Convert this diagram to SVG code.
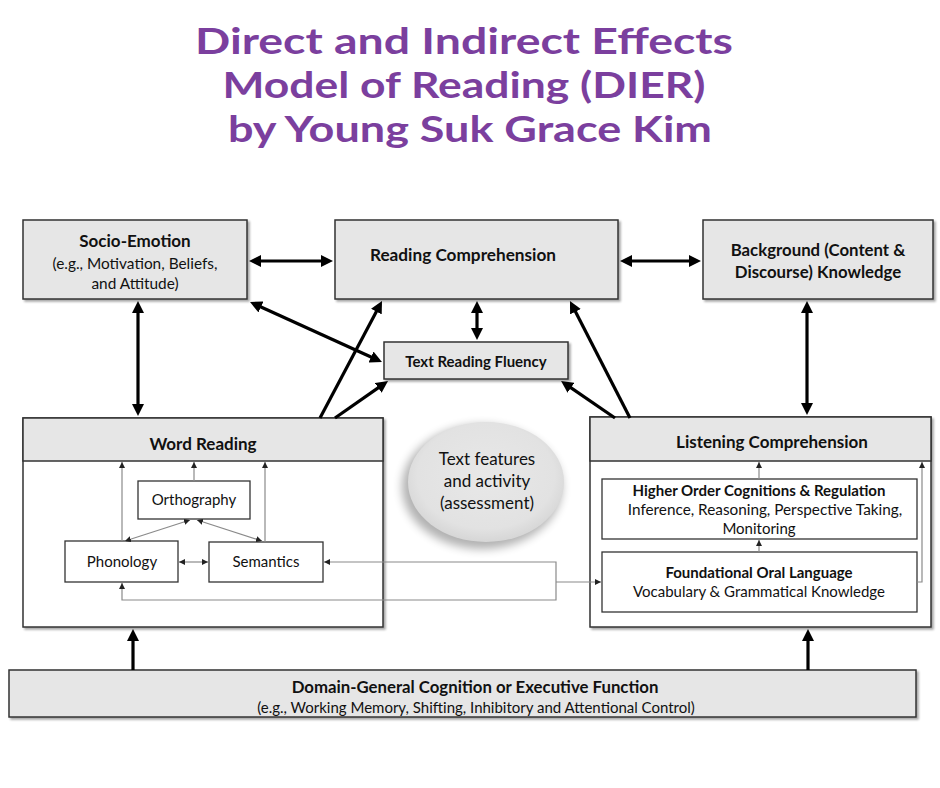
<svg xmlns="http://www.w3.org/2000/svg" width="940" height="788" viewBox="0 0 940 788">
<defs>
<style>
.t{font-family:Lato,"Liberation Sans",sans-serif;fill:#111;text-anchor:middle}
.b{font-weight:bold}
.title{font-family:Lato,"Liberation Sans",sans-serif;font-weight:bold;fill:#7b3f9e;font-size:37px;text-anchor:middle}
.box{fill:#e6e6e6;stroke:#333;stroke-width:1.5;filter:url(#sh)}
.wbox{fill:#fff;stroke:#333;stroke-width:1.5;filter:url(#sh)}
.ibox{fill:#fff;stroke:#333;stroke-width:1.3}
.hd{fill:#e6e6e6;stroke:#333;stroke-width:1.5}
.thick{stroke:#000;stroke-width:3.2;fill:none}
.thin{stroke:#8a8a8a;stroke-width:1.2;fill:none}
</style>
<filter id="sh" x="-5%" y="-5%" width="115%" height="125%">
<feDropShadow dx="2" dy="2" stdDeviation="1.2" flood-color="#000" flood-opacity="0.35"/>
</filter>
<filter id="esh" x="-30%" y="-30%" width="160%" height="160%">
<feGaussianBlur stdDeviation="5"/>
</filter>
<radialGradient id="eg" cx="50%" cy="45%" r="55%">
<stop offset="0" stop-color="#e8e8e8"/>
<stop offset="0.8" stop-color="#e2e2e2"/>
<stop offset="1" stop-color="#d6d6d6"/>
</radialGradient>
<marker id="ah" viewBox="0 0 10 10" refX="5" refY="5" markerWidth="12" markerHeight="12" markerUnits="userSpaceOnUse" orient="auto-start-reverse">
<path d="M0,0 L10,5 L0,10 z" fill="#000"/>
</marker>
<marker id="sa" viewBox="0 0 10 10" refX="10" refY="5" markerWidth="6" markerHeight="6" markerUnits="userSpaceOnUse" orient="auto-start-reverse">
<path d="M0,0 L10,5 L0,10 z" fill="#222"/>
</marker>
</defs>
<rect width="940" height="788" fill="#fff"/>

<g id="title">
<text class="title" x="464" y="54" textLength="538" lengthAdjust="spacingAndGlyphs">Direct and Indirect Effects</text>
<text class="title" x="464" y="98" textLength="483" lengthAdjust="spacingAndGlyphs">Model of Reading (DIER)</text>
<text class="title" x="470" y="142" textLength="484" lengthAdjust="spacingAndGlyphs">by Young Suk Grace Kim</text>
</g>

<g id="socio-emotion">
<rect class="box" x="23" y="220" width="224" height="79"/>
<text class="t b" x="135" y="247" font-size="17">Socio-Emotion</text>
<text class="t" x="135" y="269" font-size="15.4">(e.g., Motivation, Beliefs,</text>
<text class="t" x="135" y="289" font-size="15.4">and Attitude)</text>
</g>

<g id="reading-comprehension">
<rect class="box" x="335" y="220" width="283" height="79"/>
<text class="t b" x="463" y="261" font-size="17.2">Reading Comprehension</text>
</g>

<g id="background-knowledge">
<rect class="box" x="703" y="220" width="230" height="79"/>
<text class="t b" x="818" y="256" font-size="16.8">Background (Content &amp;</text>
<text class="t b" x="818" y="278" font-size="16.8">Discourse) Knowledge</text>
</g>

<g id="text-reading-fluency">
<rect class="box" x="384" y="342" width="184" height="37"/>
<text class="t b" x="476" y="367" font-size="15">Text Reading Fluency</text>
</g>

<g id="text-features">
<ellipse cx="482" cy="487" rx="80" ry="62" fill="#000" opacity="0.3" filter="url(#esh)"/>
<ellipse cx="486" cy="482" rx="78" ry="60" fill="url(#eg)"/>
<text class="t" x="487" y="465" font-size="17">Text features</text>
<text class="t" x="487" y="487" font-size="17">and activity</text>
<text class="t" x="487" y="509" font-size="17">(assessment)</text>
</g>

<g id="word-reading">
<rect class="wbox" x="23" y="418" width="360" height="209"/>
<rect class="hd" x="23" y="418" width="360" height="43"/>
<text class="t b" x="203" y="450" font-size="17">Word Reading</text>
</g>

<g id="orthography">
<rect class="ibox" x="138" y="481" width="112" height="38"/>
<text class="t" x="194" y="505" font-size="15">Orthography</text>
</g>

<g id="phonology">
<rect class="ibox" x="65" y="541" width="113" height="41"/>
<text class="t" x="122" y="567" font-size="15">Phonology</text>
</g>

<g id="semantics">
<rect class="ibox" x="209" y="542" width="114" height="40"/>
<text class="t" x="266" y="567" font-size="15">Semantics</text>
</g>

<g id="listening-comprehension">
<rect class="wbox" x="590" y="417" width="341" height="210"/>
<rect class="hd" x="590" y="417" width="341" height="44"/>
<text class="t b" x="772" y="448" font-size="17">Listening Comprehension</text>
</g>

<g id="higher-order">
<rect class="ibox" x="602" y="479" width="315" height="60"/>
<text class="t b" x="759" y="496" font-size="15">Higher Order Cognitions &amp; Regulation</text>
<text class="t" x="765" y="515" font-size="15.3">Inference, Reasoning, Perspective Taking,</text>
<text class="t" x="759" y="534" font-size="15">Monitoring</text>
</g>

<g id="foundational-oral-language">
<rect class="ibox" x="602" y="552" width="315" height="60"/>
<text class="t b" x="759" y="578" font-size="15">Foundational Oral Language</text>
<text class="t" x="759" y="597" font-size="15">Vocabulary &amp; Grammatical Knowledge</text>
</g>

<g id="domain-general">
<rect class="box" x="9" y="670" width="907" height="47"/>
<text class="t b" x="475" y="693" font-size="16.8">Domain-General Cognition or Executive Function</text>
<text class="t" x="476" y="713" font-size="15">(e.g., Working Memory, Shifting, Inhibitory and Attentional Control)</text>
</g>

<g id="connectors">
<line class="thick" x1="255" y1="261" x2="327" y2="261" marker-start="url(#ah)" marker-end="url(#ah)"/>
<line class="thick" x1="626" y1="261" x2="695" y2="261" marker-start="url(#ah)" marker-end="url(#ah)"/>
<line class="thick" x1="138" y1="307" x2="138" y2="410" marker-start="url(#ah)" marker-end="url(#ah)"/>
<line class="thick" x1="807" y1="307" x2="807" y2="409" marker-start="url(#ah)" marker-end="url(#ah)"/>
<line class="thick" x1="477" y1="307" x2="477" y2="334" marker-start="url(#ah)" marker-end="url(#ah)"/>
<line class="thick" x1="255.5" y1="304.5" x2="376.5" y2="359.5" marker-start="url(#ah)" marker-end="url(#ah)"/>
<line class="thick" x1="320" y1="418" x2="379.2" y2="306.3" marker-end="url(#ah)"/>
<line class="thick" x1="335" y1="418" x2="383.1" y2="384.4" marker-end="url(#ah)"/>
<line class="thick" x1="615" y1="418" x2="566" y2="384.4" marker-end="url(#ah)"/>
<line class="thick" x1="630" y1="418" x2="572.7" y2="306.3" marker-end="url(#ah)"/>
<line class="thick" x1="133" y1="670" x2="133" y2="635" marker-end="url(#ah)"/>
<line class="thick" x1="808" y1="670" x2="808" y2="635" marker-end="url(#ah)"/>

<line class="thin" x1="122" y1="541" x2="122" y2="462" marker-end="url(#sa)"/>
<line class="thin" x1="194" y1="481" x2="194" y2="462" marker-end="url(#sa)"/>
<line class="thin" x1="265" y1="542" x2="265" y2="462" marker-end="url(#sa)"/>
<line class="thin" x1="125" y1="541" x2="190" y2="520" marker-start="url(#sa)" marker-end="url(#sa)"/>
<line class="thin" x1="262" y1="541" x2="197" y2="520" marker-start="url(#sa)" marker-end="url(#sa)"/>
<line class="thin" x1="179" y1="562" x2="208" y2="562" marker-start="url(#sa)" marker-end="url(#sa)"/>
<polyline class="thin" points="324,562 556,562 556,600 122,600 122,583" marker-start="url(#sa)" marker-end="url(#sa)"/>
<line class="thin" x1="556" y1="582" x2="601" y2="582" marker-end="url(#sa)"/>
<line class="thin" x1="759" y1="479" x2="759" y2="462" marker-end="url(#sa)"/>
<line class="thin" x1="759" y1="552" x2="759" y2="540" marker-end="url(#sa)"/>
<polyline class="thin" points="917,582 922,582 922,462" marker-end="url(#sa)"/>
</g>
</svg>
